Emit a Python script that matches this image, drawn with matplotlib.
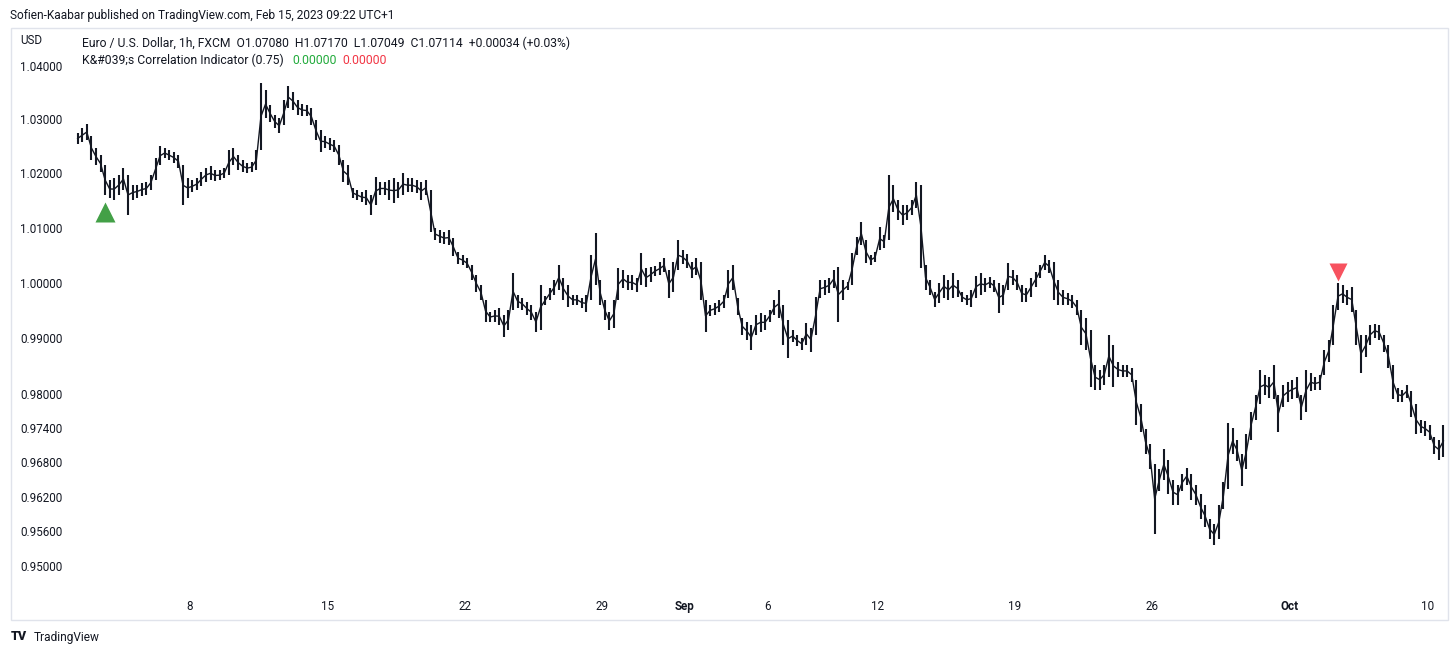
import numpy as np
import pandas as pd
import matplotlib
matplotlib.use("Agg")
import matplotlib.pyplot as plt
import matplotlib.transforms as mtransforms
from matplotlib.patches import Rectangle

W, H = 1456, 655

# EUR/USD 1h chart, grouped in 4-hour blocks (high / low)
# one row per trading day, Aug 1 (last block) .. Oct 10 (first four blocks)
high = (
    [1.0274]
    + [1.0284, 1.0292, 1.0270, 1.0247, 1.0234, 1.0215]   # Aug 2
    + [1.0187, 1.0191, 1.0197, 1.0210, 1.0197, 1.0178]
    + [1.0178, 1.0182, 1.0184, 1.0197, 1.0228, 1.0250]
    + [1.0247, 1.0243, 1.0239, 1.0234, 1.0215, 1.0191]
    + [1.0187, 1.0191, 1.0202, 1.0210, 1.0213, 1.0206]   # Aug 8
    + [1.0206, 1.0210, 1.0243, 1.0247, 1.0234, 1.0224]
    + [1.0219, 1.0221, 1.0243, 1.0368, 1.0355, 1.0327]
    + [1.0308, 1.0302, 1.0336, 1.0362, 1.0351, 1.0336]
    + [1.0329, 1.0327, 1.0321, 1.0298, 1.0280, 1.0270]
    + [1.0265, 1.0261, 1.0252, 1.0224, 1.0215, 1.0173]   # Aug 15
    + [1.0169, 1.0165, 1.0169, 1.0160, 1.0193, 1.0184]
    + [1.0184, 1.0187, 1.0191, 1.0184, 1.0200, 1.0191]
    + [1.0191, 1.0187, 1.0184, 1.0187, 1.0169, 1.0100]
    + [1.0096, 1.0092, 1.0096, 1.0081, 1.0055, 1.0050]
    + [1.0044, 1.0032, 1.0014, 0.9996, 0.9969, 0.9947]   # Aug 22
    + [0.9951, 0.9955, 0.9942, 0.9951, 1.0018, 0.9978]
    + [0.9973, 0.9965, 0.9960, 0.9947, 0.9996, 0.9976]
    + [0.9991, 1.0005, 1.0032, 1.0009, 0.9996, 0.9978]
    + [0.9978, 0.9973, 0.9978, 1.0050, 1.0090, 1.0005]
    + [0.9969, 0.9947, 0.9969, 1.0026, 1.0023, 1.0014]   # Aug 29
    + [1.0014, 1.0009, 1.0054, 1.0026, 1.0028, 1.0030]
    + [1.0037, 1.0044, 1.0023, 1.0037, 1.0077, 1.0059]
    + [1.0052, 1.0037, 1.0044, 1.0037, 0.9969, 0.9960]
    + [0.9964, 0.9969, 0.9978, 1.0023, 1.0032, 0.9973]
    + [0.9937, 0.9929, 0.9924, 0.9942, 0.9946, 0.9942]   # Sep 5
    + [0.9951, 0.9969, 0.9987, 0.9960, 0.9933, 0.9915]
    + [0.9906, 0.9901, 0.9928, 0.9919, 0.9974, 1.0005]
    + [1.0005, 1.0009, 1.0023, 1.0028, 1.0005, 1.0001]
    + [1.0054, 1.0083, 1.0110, 1.0077, 1.0050, 1.0055]
    + [1.0101, 1.0086, 1.0197, 1.0178, 1.0151, 1.0141]   # Sep 12
    + [1.0141, 1.0151, 1.0184, 1.0178, 1.0032, 1.0005]
    + [0.9983, 1.0000, 1.0014, 1.0005, 1.0018, 1.0005]
    + [0.9983, 0.9978, 0.9987, 1.0012, 1.0018, 1.0009]
    + [1.0010, 1.0005, 1.0000, 0.9996, 1.0036, 1.0023]
    + [1.0014, 0.9996, 0.9991, 1.0009, 1.0019, 1.0032]   # Sep 19
    + [1.0050, 1.0041, 1.0037, 1.0005, 0.9987, 0.9982]
    + [0.9978, 0.9969, 0.9951, 0.9937, 0.9915, 0.9853]
    + [0.9844, 0.9853, 0.9906, 0.9888, 0.9858, 0.9853]
    + [0.9853, 0.9847, 0.9826, 0.9782, 0.9738, 0.9712]
    + [0.9677, 0.9668, 0.9703, 0.9685, 0.9650, 0.9641]   # Sep 26
    + [0.9659, 0.9671, 0.9659, 0.9641, 0.9624, 0.9606]
    + [0.9581, 0.9572, 0.9606, 0.9645, 0.9750, 0.9741]
    + [0.9720, 0.9694, 0.9729, 0.9769, 0.9799, 0.9844]
    + [0.9835, 0.9830, 0.9853, 0.9799, 0.9817, 0.9821]
    + [0.9826, 0.9830, 0.9799, 0.9844, 0.9838, 0.9830]   # Oct 3
    + [0.9835, 0.9879, 0.9897, 0.9960, 1.0000, 0.9996]
    + [0.9987, 0.9992, 0.9951, 0.9906, 0.9906, 0.9924]
    + [0.9926, 0.9924, 0.9906, 0.9888, 0.9853, 0.9812]
    + [0.9808, 0.9817, 0.9805, 0.9782, 0.9755, 0.9752]
    + [0.9746, 0.9724, 0.9720, 0.9746]                   # Oct 10
)

low = (
    [1.0255]
    + [1.0257, 1.0261, 1.0224, 1.0215, 1.0202, 1.0160]   # Aug 2
    + [1.0155, 1.0151, 1.0160, 1.0169, 1.0123, 1.0151]
    + [1.0155, 1.0158, 1.0160, 1.0169, 1.0187, 1.0215]
    + [1.0228, 1.0224, 1.0219, 1.0210, 1.0141, 1.0155]
    + [1.0165, 1.0169, 1.0176, 1.0184, 1.0187, 1.0186]   # Aug 8
    + [1.0187, 1.0191, 1.0197, 1.0215, 1.0206, 1.0202]
    + [1.0200, 1.0202, 1.0206, 1.0243, 1.0302, 1.0295]
    + [1.0284, 1.0274, 1.0289, 1.0321, 1.0317, 1.0308]
    + [1.0306, 1.0306, 1.0289, 1.0261, 1.0239, 1.0247]
    + [1.0243, 1.0239, 1.0215, 1.0184, 1.0178, 1.0155]   # Aug 15
    + [1.0151, 1.0147, 1.0141, 1.0123, 1.0141, 1.0160]
    + [1.0160, 1.0151, 1.0145, 1.0155, 1.0160, 1.0165]
    + [1.0165, 1.0163, 1.0151, 1.0160, 1.0092, 1.0077]
    + [1.0073, 1.0070, 1.0068, 1.0048, 1.0034, 1.0032]
    + [1.0026, 1.0005, 0.9983, 0.9969, 0.9929, 0.9929]   # Aug 22
    + [0.9929, 0.9924, 0.9902, 0.9915, 0.9951, 0.9955]
    + [0.9951, 0.9942, 0.9933, 0.9911, 0.9915, 0.9960]
    + [0.9969, 0.9978, 0.9987, 0.9969, 0.9956, 0.9960]
    + [0.9960, 0.9955, 0.9947, 0.9969, 0.9996, 0.9960]
    + [0.9933, 0.9915, 0.9919, 0.9969, 0.9991, 0.9987]   # Aug 29
    + [0.9987, 0.9983, 0.9996, 0.9992, 1.0001, 1.0012]
    + [1.0014, 1.0019, 0.9973, 0.9983, 1.0023, 1.0034]
    + [1.0026, 1.0009, 1.0014, 0.9969, 0.9911, 0.9940]
    + [0.9942, 0.9947, 0.9955, 0.9973, 0.9987, 0.9942]
    + [0.9906, 0.9897, 0.9879, 0.9906, 0.9911, 0.9915]   # Sep 5
    + [0.9929, 0.9942, 0.9937, 0.9888, 0.9865, 0.9893]
    + [0.9886, 0.9879, 0.9888, 0.9876, 0.9906, 0.9973]
    + [0.9978, 0.9982, 0.9991, 0.9929, 0.9969, 0.9987]
    + [0.9996, 1.0050, 1.0068, 1.0036, 1.0032, 1.0037]
    + [1.0059, 1.0063, 1.0077, 1.0128, 1.0114, 1.0105]   # Sep 12
    + [1.0114, 1.0123, 1.0136, 1.0026, 0.9987, 0.9978]
    + [0.9956, 0.9964, 0.9973, 0.9969, 0.9973, 0.9974]
    + [0.9965, 0.9960, 0.9956, 0.9973, 0.9978, 0.9983]
    + [0.9991, 0.9983, 0.9946, 0.9960, 0.9987, 0.9996]
    + [0.9987, 0.9965, 0.9965, 0.9974, 0.9992, 1.0009]   # Sep 19
    + [1.0023, 1.0018, 0.9969, 0.9960, 0.9960, 0.9960]
    + [0.9955, 0.9942, 0.9888, 0.9879, 0.9813, 0.9808]
    + [0.9808, 0.9817, 0.9830, 0.9813, 0.9830, 0.9830]
    + [0.9830, 0.9822, 0.9746, 0.9734, 0.9694, 0.9668]
    + [0.9555, 0.9630, 0.9650, 0.9624, 0.9606, 0.9606]   # Sep 26
    + [0.9630, 0.9641, 0.9615, 0.9606, 0.9581, 0.9567]
    + [0.9546, 0.9537, 0.9546, 0.9598, 0.9633, 0.9694]
    + [0.9682, 0.9638, 0.9668, 0.9720, 0.9755, 0.9782]
    + [0.9799, 0.9794, 0.9791, 0.9734, 0.9777, 0.9787]
    + [0.9791, 0.9794, 0.9755, 0.9769, 0.9805, 0.9808]   # Oct 3
    + [0.9808, 0.9835, 0.9858, 0.9888, 0.9951, 0.9964]
    + [0.9960, 0.9947, 0.9888, 0.9838, 0.9867, 0.9888]
    + [0.9901, 0.9897, 0.9876, 0.9847, 0.9791, 0.9787]
    + [0.9787, 0.9794, 0.9759, 0.9729, 0.9732, 0.9727]
    + [0.9720, 0.9694, 0.9685, 0.9689]                   # Oct 10
)

y_ticks = [1.04, 1.03, 1.02, 1.01, 1.00, 0.99, 0.98, 0.974, 0.968, 0.962, 0.956, 0.95]
x_label_dates = ["2022-08-08", "2022-08-15", "2022-08-22", "2022-08-29", "2022-09-01",
                 "2022-09-06", "2022-09-12", "2022-09-19", "2022-09-26", "2022-10-03",
                 "2022-10-10"]
x_label_text = ["8", "15", "22", "29", "Sep", "6", "12", "19", "26", "Oct", "10"]
buy_bars = [6]
sell_bars = [275]

# block start times, weekends removed
times = pd.date_range("2022-08-01 20:00", "2022-10-10 12:00", freq="4h")
times = times[times.dayofweek < 5]
x = np.arange(len(times))
high = np.array(high)
low = np.array(low)

INK = "#131722"


def fx(px):
    return px / W


def fy(py):
    return 1 - py / H


fig = plt.figure(figsize=(W / 100, H / 100), dpi=100)
fig.patch.set_facecolor("white")
plt.rcParams["font.family"] = ["Roboto", "DejaVu Sans"]

ax = fig.add_axes([fx(68), fy(592), fx(1448 - 68), (592 - 28) / H])
ax.set_yscale("log")

# dense bars: high-low strokes on a thin line through the block middles
ax.plot(x, (high + low) / 2, color=INK, lw=1.0)
ax.vlines(x, low, high, color=INK, lw=1.5)

# signals
down = mtransforms.ScaledTranslation(0, -0.17, fig.dpi_scale_trans)
up = mtransforms.ScaledTranslation(0, 0.11, fig.dpi_scale_trans)
ax.plot(x[buy_bars], low[buy_bars], "^", ms=14, color="#43a047", mec="none",
        transform=ax.transData + down)
ax.plot(x[sell_bars], high[sell_bars], "v", ms=13, color="#f7525f", mec="none",
        transform=ax.transData + up)

ax.set_xlim(-2.1, 299.0)
ax.set_ylim(0.94555, 1.04718)

ax.set_yticks(y_ticks)
ax.set_yticklabels(["%.5f" % v for v in y_ticks])
ax.yaxis.set_minor_locator(matplotlib.ticker.NullLocator())

tick_pos = [np.searchsorted(times, pd.Timestamp(d)) - 0.5 for d in x_label_dates]
ax.set_xticks(tick_pos)
ax.set_xticklabels(x_label_text)
for lbl, txt in zip(ax.get_xticklabels(), x_label_text):
    if not txt.isdigit():
        lbl.set_fontweight("bold")

ax.tick_params(axis="y", length=0, pad=4, labelsize=8.4, labelcolor=INK)
ax.tick_params(axis="x", length=0, pad=6, labelsize=8.4, labelcolor=INK)
for s in ax.spines.values():
    s.set_visible(False)

# outer frame
fig.add_artist(Rectangle((fx(11), fy(620)), fx(1448 - 11), (620 - 28) / H,
                         transform=fig.transFigure, fill=False, ec="#e0e3eb", lw=1))

fig.text(fx(10), fy(15), "Sofien-Kaabar published on TradingView.com, Feb 15, 2023 09:22 UTC+1",
         fontsize=8.6, color=INK, va="center")
fig.text(fx(20), fy(41), "USD", fontsize=8.4, color=INK, va="center")
fig.text(fx(82), fy(43),
         "Euro / U.S. Dollar, 1h, FXCM  O1.07080  H1.07170  L1.07049  C1.07114  +0.00034 (+0.03%)",
         fontsize=8.7, color=INK, va="center")
fig.text(fx(82), fy(60), "K&#039;s Correlation Indicator (0.75)", fontsize=8.8, color=INK,
         va="center")
fig.text(fx(292), fy(60), "0.00000", fontsize=8.8, color="#22ab3c", va="center")
fig.text(fx(342), fy(60), "0.00000", fontsize=8.8, color="#f23645", va="center")

fig.text(fx(11), fy(637), "TV", fontsize=9, fontweight="black", color=INK, va="center")
fig.text(fx(34), fy(637), "TradingView", fontsize=8.6, color=INK, va="center")

fig.savefig("out.png", dpi=100, facecolor="white")
